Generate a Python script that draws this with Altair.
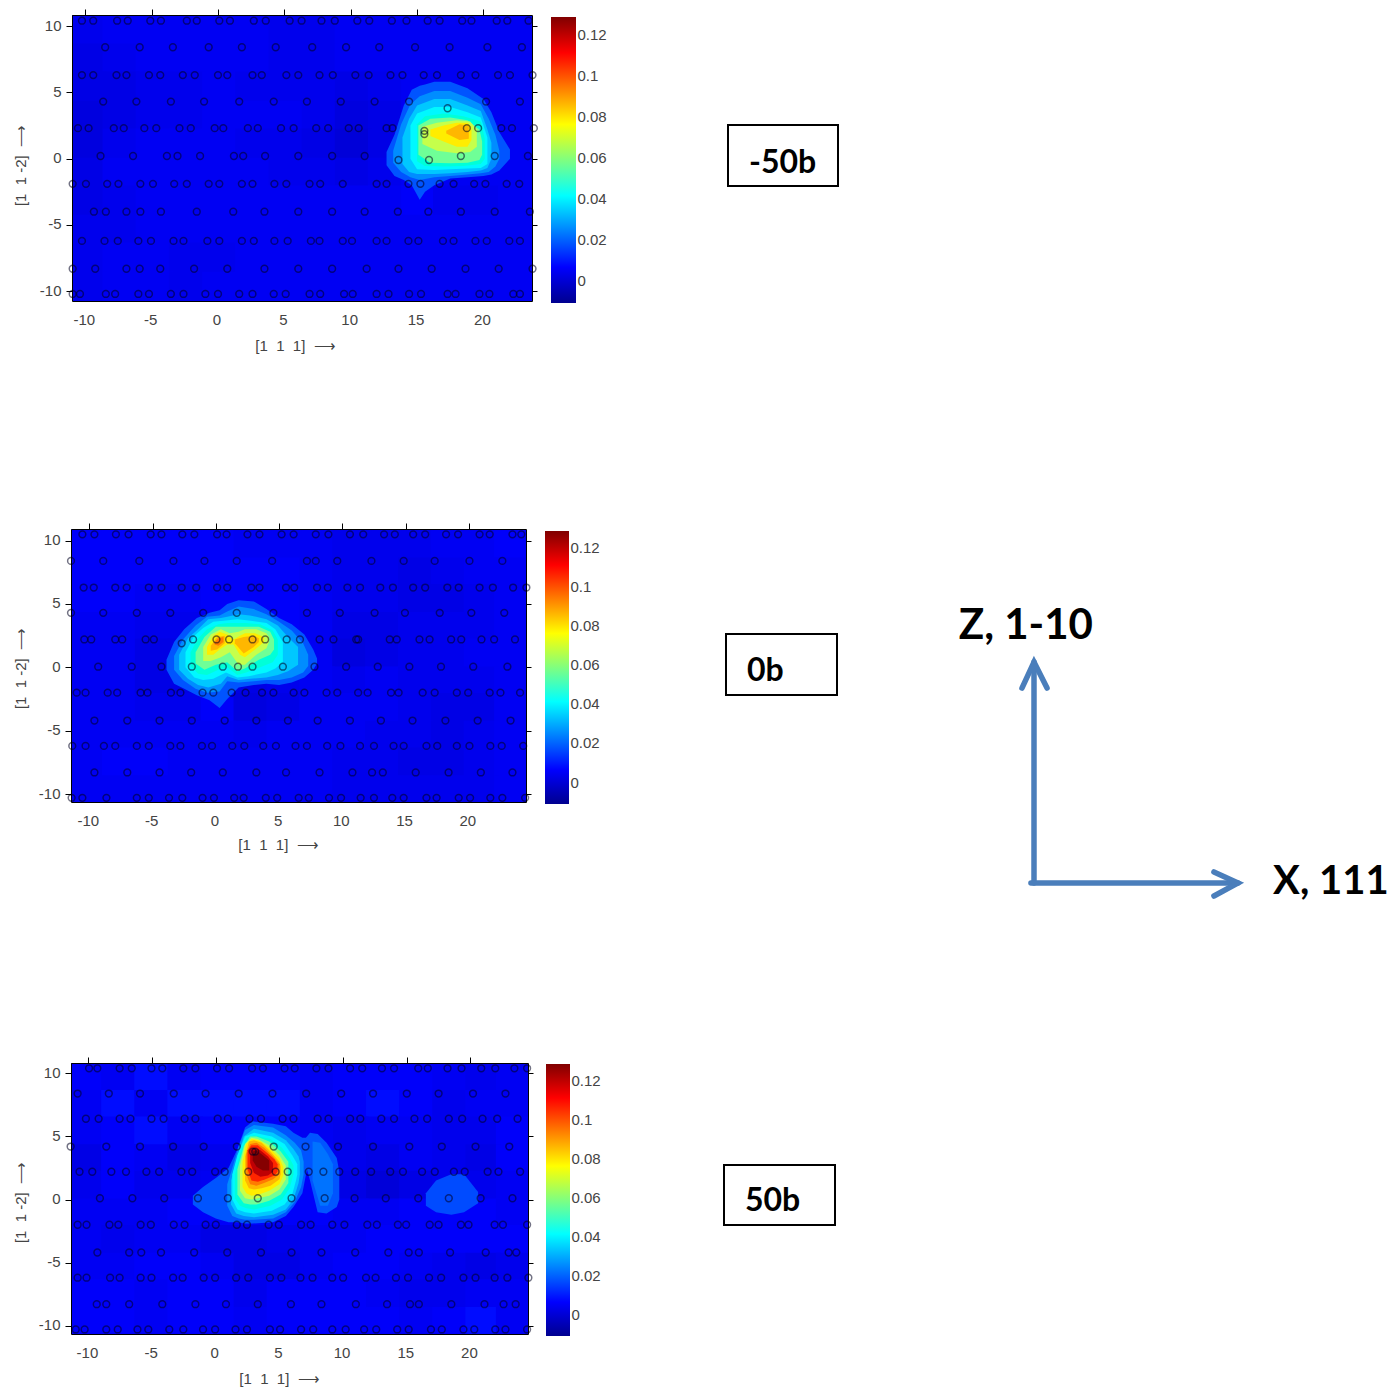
import altair as alt
import pandas as pd

W, H = 1382, 1381
JET_STOPS = [-0.0107, 0.00674, 0.0416, 0.0765, 0.1114, 0.1288]
JET_COLORS = ["#00008f", "#0000ff", "#00ffff", "#ffff00", "#ff0000", "#800000"]
CB_TICKS = [0, 0.02, 0.04, 0.06, 0.08, 0.1, 0.12]
AX_XT = [-10, -5, 0, 5, 10, 15, 20]
AX_YT = [-10, -5, 0, 5, 10]

# ---------- measured atom positions, (row y, [x...]) ----------
P1_POINTS = [
 (10.4, [-10.25,-9.4,-7.6,-6.8,-5.1,-4.3,-2.35,-1.6,0.1,0.9,2.7,3.6,5.4,6.3,7.8,8.8,10.5,11.4,13.1,14.2,15.8,16.7,18.4,19.1,21.0,21.8,23.4]),
 (8.4, [-8.5,-5.9,-3.4,-0.7,1.8,4.35,7.1,9.65,12.15,14.85,17.45,20.3,22.9]),
 (6.3, [-10.25,-9.4,-7.65,-6.9,-5.2,-4.35,-2.65,-1.75,0,0.7,2.6,3.3,5.15,6.05,7.65,8.65,10.35,11.35,13,13.9,15.5,16.5,18.3,19.4,21.1,22,23.7]),
 (4.3, [-8.65,-6.15,-3.55,-1.05,1.6,4.2,6.7,9.25,11.8,14.4,20.2,22.75]),
 (3.8, [17.3]),
 (2.3, [-10.55,-9.75,-7.85,-7.1,-5.55,-4.65,-2.9,-2.05,-0.25,0.4,2.25,3,4.75,5.7,7.4,8.3,9.85,10.6,12.7,13.15,18.75,19.6,21.35,22.15,23.8]),
 (2.1, [15.55]), (1.85, [15.55]),
 (0.2, [-8.85,-6.4,-3.85,-3.05,-1.35,1.2,1.9,3.55,6.05,8.6,11.05,18.3,20.85,23.35]),
 (-0.1, [13.6,15.9]),
 (-1.9, [-10.95,-9.95,-8.35,-7.5,-5.85,-4.9,-3.3,-2.35,-0.7,0.1,1.8,2.6,4.25,5.15,6.9,7.7,9.4,11.95,12.7,14.35,15.25,16.7,17.75,19.3,20.15,21.75,22.7]),
 (-4.0, [-9.35,-8.45,-6.9,-5.85,-4.3,-1.6,1.15,3.5,6.05,8.6,11.05,13.55,15.85,18.3,20.85,23.5]),
 (-6.2, [-10.25,-8.55,-7.55,-6,-5.05,-3.35,-2.6,-0.8,0.1,1.8,2.7,4.25,5.25,7,7.65,9.4,10.1,11.95,12.7,14.35,15.1,16.95,17.75,19.4,20.25,21.95,22.75]),
 (-8.3, [-10.95,-9.25,-6.9,-5.9,-4.35,-1.8,0.7,3.5,6.05,8.6,11.2,13.6,16.1,18.65,21.15,23.7]),
 (-10.2, [-10.95,-10.4,-8.45,-7.75,-6,-5.2,-3.55,-2.6,-0.95,0,1.6,2.6,4.2,5.1,6.9,7.7,9.5,10.15,11.95,12.85,14.4,15.3,17.3,17.9,19.7,20.45,22.25,22.75]),
]
P2_POINTS = [
 (10.5, [-10.55,-9.6,-7.9,-6.9,-5.15,-4.3,-2.65,-1.7,0.1,0.85,2.5,3.45,5.2,6.15,7.9,8.9,10.6,11.65,13.3,14.15,15.6,16.55,18.2,19.15,20.85,21.65,23.45,24.15]),
 (8.4, [-11.45,-8.9,-6.05,-3.35,-0.9,1.65,4.45,7.2,7.9,9.6,12.3,14.85,17.3,20.05,22.65]),
 (6.3, [-10.45,-9.65,-7.95,-7.05,-5.3,-4.3,-2.7,-1.55,0.1,0.9,2.8,3.45,5.55,6.2,8,8.85,10.4,11.4,13,14,15.6,16.55,18.3,19.2,20.85,21.9,23.5,24.55]),
 (4.3, [-11.45,-8.9,-6.25,-3.6,-1,1.65,4.55,7.2,9.8,12.55,14.95,17.7,20.2,22.8]),
 (2.2, [-10.4,-9.85,-7.95,-7.4,-5.55,-4.9,-1.8,0.05,1.05,2.9,3.9,5.6,6.65,8.2,9.3,11.1,11.25,13.75,14.3,16.1,16.9,18.6,19.4,21,22,23.65]),
 (1.9, [-2.7]),
 (0.05, [-9.3,-6.65,-4.3,-1.9,0.55,1.75,2.9,5.3,7.8,10.3,12.8,15.3,17.8,20.35,23.05]),
 (-2.0, [-11,-10.3,-8.55,-7.8,-5.95,-5.4,-3.55,-2.8,-1.05,-0.2,1.25,2.35,3.65,4.55,6.15,7,8.75,9.6,11.25,12,13.85,14.45,16.35,17.3,19.05,19.95,21.65,22.5,24.05]),
 (-4.2, [-9.6,-7,-4.45,-1.9,0.7,3.2,5.7,8.05,10.6,13.05,15.55,18.15,20.7,23.3]),
 (-6.2, [-11.35,-10.3,-8.85,-7.95,-6.25,-5.3,-3.6,-2.8,-1.1,-0.3,1.3,2.25,3.75,4.75,6.3,7.2,8.8,9.85,11.4,12.5,14.05,14.85,16.65,17.5,19.05,20.05,21.7,22.6,24.3]),
 (-8.3, [-9.6,-7,-4.45,-1.95,0.55,3.2,5.55,8.2,10.8,12.35,13.2,15.8,18.4,20.95,23.45]),
 (-10.3, [-11.4,-10.55,-8.65,-6.25,-5.3,-3.7,-2.65,-1.05,-0.15,1.45,2.2,3.95,4.85,6.55,7.35,8.95,9.9,11.45,12.5,13.95,14.85,16.65,17.45,19.2,20.1,21.7,22.65,24.45]),
]
P3_POINTS = [
 (10.4, [-9.95,-9.3,-7.55,-6.6,-5.05,-4.2,-2.55,-1.6,0.1,1.05,2.85,3.7,5.4,6.2,7.9,8.85,10.55,11.5,13.05,14,15.9,16.65,18.2,19.3,20.85,21.95,23.45,24.45]),
 (8.4, [-10.85,-8.4,-5.95,-3.3,-0.8,1.8,4.45,7.1,9.85,12.35,15,17.5,20.2,22.75]),
 (6.4, [-10.2,-9.2,-7.55,-6.7,-5.05,-4.1,-2.45,-1.6,0.15,0.95,2.65,3.55,5.25,6.1,8,8.85,10.55,11.35,13,14,15.6,16.6,18.3,19.35,20.95,22.1,23.7]),
 (4.2, [-11.4,-8.6,-5.95,-3.35,-0.95,1.65,4.55,7.05,9.6,12.35,15.2,17.75,20.4,23.05]),
 (3.8, [2.9,3.1]),
 (2.2, [-10.7,-9.7,-8.2,-7.05,-5.45,-4.45,-2.7,-1.85,-0.05,0.7,2.55,4.7,5.65,7.3,8.45,9.7,10.95,12.2,13.7,14.7,16.2,17.2,18.7,19.55,21.35,22.2,23.9]),
 (0.1, [-9.1,-6.55,-4.05,-1.4,0.95,3.3,5.95,8.55,10.9,13.35,15.9,18.3,20.8,23.3]),
 (-2.0, [-10.85,-10.15,-8.35,-7.65,-5.9,-5.1,-3.3,-2.45,-0.8,0,1.65,2.45,4.15,4.95,6.7,7.45,9.15,10.1,11.9,12.65,14.3,14.95,16.8,17.5,19.25,19.85,21.9,22.55,24.45]),
 (-4.2, [-9.3,-6.8,-5.85,-4.3,-1.7,0.9,3.55,5.95,8.3,10.95,13.55,15.15,15.95,18.4,21.2,23,23.6]),
 (-6.2, [-10.85,-10.15,-8.3,-7.55,-5.9,-5.05,-3.35,-2.6,-0.95,-0.05,1.6,2.55,4.25,5.15,6.65,7.6,9.15,10,11.8,12.55,14.15,15.1,16.75,17.7,19.45,20.4,21.9,22.9,24.55]),
 (-8.3, [-9.35,-8.6,-6.8,-4.2,-1.6,0.8,3.3,5.9,8.3,11,13.45,15.25,15.95,18.5,21.1,22.6,23.55]),
 (-10.3, [-11,-10.3,-8.6,-7.7,-6.15,-5.3,-3.65,-2.55,-1,-0.05,1.55,2.45,4.25,5.05,6.7,7.65,9.15,10.2,11.65,12.6,14.25,15.15,16.9,17.75,19.45,20.3,21.95,22.75,24.45]),
]

# ---------- background intensity, thousandths ----------
BG_Y = [9.7, 7.5, 5.4, 3.2, 1.1, -1.1, -3.2, -5.4, -7.5, -9.7]
P1_BG_X = [-9.8,-7.3,-4.8,-2.3,0.2,2.7,5.2,7.7,10.2,12.7,15.2,17.6,20.1,22.5]
P1_BG = [
 [4,5,5,5,5,5,4,4,5,5,5,5,5,5],
 [3,4,5,5,5,5,4,4,5,5,5,5,5,5],
 [3,3,4,4,5,4,4,4,3,4,5,5,5,5],
 [2,3,4,4,5,5,5,4,2,3,5,5,5,5],
 [2,4,5,5,5,4,4,3,1,3,5,5,5,5],
 [3,5,5,5,5,5,4,4,3,4,5,5,5,5],
 [3,4,5,5,5,5,5,5,5,5,6,4,4,5],
 [4,4,5,5,5,5,5,5,5,5,5,5,5,5],
 [4,5,5,4,4,5,5,5,5,5,5,5,5,5],
 [4,5,5,4,5,5,5,5,5,5,5,5,5,5],
]
P2_BG_X = [-10.2,-7.6,-5,-2.4,0.2,2.8,5.4,8,10.6,13.2,15.8,18.4,21,23.4]
P2_BG = [
 [6,6,6,6,6,5,5,5,4,4,4,5,5,6],
 [6,6,6,6,6,6,6,5,4,4,3,4,5,5],
 [6,6,5,5,6,6,6,5,4,4,3,3,4,5],
 [5,5,4,4,5,6,6,5,3,3,4,4,4,5],
 [5,5,3,3,5,5,6,5,2,3,4,4,5,5],
 [5,5,3,3,5,3,4,5,4,5,4,4,4,5],
 [5,5,4,4,6,2,3,5,5,5,4,3,3,5],
 [5,5,5,5,5,4,5,5,5,4,4,3,4,5],
 [5,6,6,5,5,5,5,5,4,4,3,3,4,5],
 [5,5,5,5,5,5,5,5,4,4,4,4,4,5],
]
P3_BG_X = [-10.2,-7.6,-5,-2.4,0.2,2.8,5.4,8,10.6,13.2,15.8,18.4,21,23.4]
P3_BG = [
 [6,5,7,5,6,6,6,5,6,6,6,5,4,5],
 [5,7,5,7,7,7,7,5,6,7,6,4,5,5],
 [5,6,7,5,6,6,6,5,4,5,5,4,4,6],
 [3,6,5,3,4,5,6,6,4,3,5,4,3,6],
 [4,6,4,4,5,7,6,6,3,1,3,4,4,5],
 [5,5,5,6,6,6,6,6,5,5,6,6,6,5],
 [5,4,5,5,3,3,4,5,5,6,6,6,6,6],
 [5,5,6,6,5,3,3,5,6,6,5,4,3,4],
 [6,6,5,6,6,4,6,6,6,5,4,4,5,5],
 [6,6,5,6,6,5,6,6,6,6,5,6,7,5],
]
# ---------- filled contours: (level, [(x, lower y, upper y), ...]) ----------
P1_CONTOURS = [
 (0.012, [(12.7,-0.5,0.5),(13.3,-1.3,1.8),(14,-1.6,4),(14.6,-2,5.2),(15.2,-3.1,5.5),(15.6,-2.5,5.6),(16.3,-2,5.8),(17.5,-1.5,5.8),(18.8,-1.4,5.3),(20,-1.3,4.5),(20.6,-1.2,3.5),(21.2,-0.9,2),(22,0,0.7)]),
 (0.02, [(13.2,-0.3,0.6),(13.8,-1,2.6),(14.5,-1.4,4.1),(15.2,-1.6,4.7),(16.3,-1.4,5.1),(17.5,-1.3,5.1),(18.8,-1.2,4.6),(19.8,-1.1,4.1),(20.4,-1,3),(20.9,-0.6,1.8),(21.2,0,0.6)]),
 (0.03, [(13.9,-0.4,1.6),(14.4,-1,3),(15,-1.15,4),(16.3,-1.15,4.5),(17.5,-1.1,4.5),(18.8,-1,4),(19.8,-0.9,3.6),(20.3,-0.7,2.2),(20.6,0,1.2)]),
 (0.04, [(14.5,0,2.5),(15,-0.8,3.4),(16.3,-0.85,3.9),(17.5,-0.8,3.9),(18.8,-0.75,3.5),(19.8,-0.7,3.1),(20.3,-0.4,1.6)]),
 (0.05, [(15,-0.2,2.6),(15.6,-0.55,3.2),(17,-0.6,3.4),(18.5,-0.55,3.2),(19.8,-0.4,2.8),(20.1,0,1.5)]),
 (0.06, [(15.1,0.3,2.5),(16,-0.3,3),(17.5,-0.35,3.1),(18.8,-0.3,2.9),(19.7,-0.1,2.2),(19.9,0.3,1.3)]),
 (0.07, [(15.4,1.1,2.4),(16.5,0.6,2.7),(18,0.4,2.9),(19,0.5,2.8),(19.5,0.9,2.2)]),
 (0.08, [(16,1.7,2.2),(17,1.3,2.5),(18,0.9,2.7),(18.8,0.9,2.7),(19.1,1.4,2.4)]),
 (0.09, [(17.2,1.9,2.1),(18.2,1.4,2.6),(18.9,1.5,2.5)]),
]
P2_CONTOURS = [
 (0.012, [(-3.9,-0.2,0.6),(-3.3,-1.3,2),(-2.5,-1.7,3),(-1.5,-2.2,3.9),(-0.5,-2.6,4.3),(0.3,-3.2,4.5),(0.9,-2.5,5),(1.8,-1.6,5.3),(3,-1.4,5.2),(4,-1.3,4.6),(5,-1.4,3.9),(6,-1.2,3.4),(7,-0.8,2.6),(7.7,-0.2,1.4),(8,0.3,0.7)]),
 (0.02, [(-3.3,-0.2,0.9),(-2.6,-1,2.2),(-1.6,-1.7,3.3),(-0.7,-2,4),(0.3,-1.9,4.1),(0.9,-1.1,4.4),(1.8,-1.2,4.8),(3,-1.1,4.6),(4,-1,4.2),(5,-1,3.6),(6,-0.8,2.9),(6.9,-0.4,1.9),(7.3,0.1,1)]),
 (0.03, [(-2.9,-0.2,1),(-2.2,-0.9,2.3),(-1.4,-1.4,3),(-0.6,-1.6,3.8),(0.4,-1.3,3.9),(0.9,-0.7,4.0),(1.8,-1,4.2),(2.7,-0.9,4.1),(4,-0.8,3.8),(4.9,-0.6,3.3),(5.7,-0.3,2.4),(6.5,0.2,1.6)]),
 (0.04, [(-2.4,0,1.2),(-1.7,-0.8,2.5),(-1,-1,3.1),(-0.2,-0.9,3.6),(0.8,-0.4,3.7),(1.7,-0.8,3.8),(2.6,-0.7,3.7),(4,-0.4,3.5),(4.7,-0.1,3),(5.3,0.4,2)]),
 (0.05, [(-2,0.1,1.2),(-1.4,-0.5,2.3),(-0.7,-0.6,3),(0.2,-0.2,3.4),(0.9,0,3.5),(1.7,-0.6,3.5),(2.4,-0.4,3.5),(3.5,0,3.4),(4.5,0.4,2.9),(4.9,1,2.2)]),
 (0.06, [(-1.6,0.3,1.2),(-0.9,-0.2,2.4),(0,0.2,3.2),(0.9,0.4,3.2),(1.7,-0.3,3.2),(2.3,-0.1,3.2),(3.4,0.6,3.2),(4.3,1,2.8),(4.6,1.4,2.2)]),
 (0.07, [(-1,0.5,1.6),(-0.4,0.5,2.6),(0.4,0.8,3),(1.1,1.2,2.7),(1.8,0.2,2.8),(2.3,0.2,3),(3.2,1,3),(4,1.5,2.7),(4.2,2,2.4)]),
 (0.08, [(-0.7,1,1.6),(-0.2,1,2.5),(0.3,1.4,2.8),(0.9,1.8,2.6),(1.4,1.8,2.2),(1.9,1,2.5),(2.3,0.8,2.7),(3.1,1.4,2.7),(3.8,2,2.4)]),
 (0.09, [(-0.4,1.3,1.7),(0.1,1.4,2.4),(0.7,1.9,2.5)]),
 (0.09, [(1.5,1.9,2.2),(2.2,1.1,2.4),(3,1.6,2.5),(3.4,2,2.3)]),
 (0.1, [(-0.1,1.8,2.0),(0.2,1.7,2.3),(0.6,2.0,2.4)]),
]
P3_CONTOURS = [
 (0.011, [(16.5,-0.5,0.5),(17.3,-1,1.5),(18.5,-1.2,2),(19.5,-1,2),(20.6,-0.3,0.6)]),
 (0.012, [(-1.8,-0.4,0.3),(-1,-1,1),(0,-1.5,1.7),(1,-1.8,2.5),(1.7,-1.8,4),(2.3,-1.9,5.7),(2.9,-1.9,6.2),(4.5,-1.8,6),(5.5,-1.3,5.8),(6.1,-0.6,5.3),(6.8,0.5,4.9),(7.2,2.6,4.9)]),
 (0.012, [(7,3,4.8),(7.4,1.5,5.3),(8,-1,5.2),(8.7,-1.1,4.5),(9.5,-0.6,3.3),(9.7,0,2.2)]),
 (0.016, [(7.6,1.5,4.6),(8.2,-0.5,4.5),(8.8,-0.5,3.6),(9.2,0.5,2.8)]),
 (0.02, [(0.9,-0.5,1.2),(1.3,-1.3,2.5),(1.8,-1.5,4.2),(2.3,-1.6,5.5),(3,-1.6,5.9),(4.5,-1.5,5.7),(5.5,-1,5.1),(6.2,-0.2,4.5),(6.7,1,3.9),(6.9,2,3)]),
 (0.03, [(1.2,-0.4,1.5),(1.6,-1.1,3),(2.2,-1.3,5),(3,-1.4,5.6),(4.5,-1.2,5.3),(5.5,-0.8,4.7),(6.1,0,4),(6.5,1.3,3.4),(6.6,2,3)]),
 (0.04, [(1.3,0,2),(1.7,-0.8,3.5),(2.3,-1,5),(3,-1.1,5.3),(4.4,-0.9,5),(5.4,-0.4,4.4),(6,0.4,3.5),(6.3,1.5,3),(6.4,2,2.8)]),
 (0.05, [(1.5,0.1,2),(1.9,-0.5,3.6),(2.4,-0.7,4.9),(3,-0.8,5.1),(4.3,-0.5,4.8),(5.2,0,4.1),(5.8,0.9,3.3),(6.1,2,2.7)]),
 (0.06, [(1.7,0.4,2.4),(2.2,-0.3,4.2),(2.7,-0.4,5),(3.2,-0.4,5),(4.2,-0.1,4.6),(5.1,0.4,3.8),(5.7,1.3,3)]),
 (0.07, [(1.9,0.7,2.7),(2.3,0.1,4.4),(2.8,0,4.9),(3.3,0.1,4.8),(4.2,0.3,4.3),(5,0.8,3.5),(5.5,1.6,2.7)]),
 (0.08, [(2.1,1,3),(2.4,0.5,4.4),(2.8,0.3,4.8),(3.4,0.4,4.7),(4.2,0.7,4.1),(5,1.2,3.3),(5.3,1.9,2.6)]),
 (0.09, [(2.3,1.5,3.4),(2.6,0.9,4.6),(3,0.8,4.7),(3.6,0.9,4.5),(4.3,1.1,3.8),(5,1.6,3),(5.1,2,2.6)]),
 (0.1, [(2.4,2,3.6),(2.7,1.2,4.4),(3.2,1.1,4.5),(3.8,1.3,4.1),(4.5,1.6,3.4),(5,2,2.8)]),
 (0.11, [(2.5,2.4,3.9),(2.8,1.5,4.3),(3.3,1.4,4.3),(3.9,1.6,3.8),(4.6,1.9,3.2),(4.85,2.2,2.8)]),
 (0.12, [(2.7,2.9,3.9),(3,2.1,4.1),(3.5,1.8,3.9),(4.1,1.9,3.4),(4.5,2.2,2.9)]),
 (0.128, [(2.9,3.1,3.8),(3.2,2.6,3.9),(3.7,2.3,3.5),(4.2,2.3,3.1)]),
]

PANELS = [
 dict(name="-50b", pts=P1_POINTS, bgx=P1_BG_X, bg=P1_BG, con=P1_CONTOURS,
      xd=[-11.0,23.66], yd=[-10.73,10.83], plot=(72,532,15,301), cb=(551,576,17,303),
      box=(728,838,125,186), tx=749, ty=163, xt=(295,345), yt=(20,165)),
 dict(name="0b", pts=P2_POINTS, bgx=P2_BG_X, bg=P2_BG, con=P2_CONTOURS,
      xd=[-11.45,24.52], yd=[-10.63,10.92], plot=(71,526,529,802), cb=(545,569,531,804),
      box=(726,837,634,695), tx=747, ty=671, xt=(278,844), yt=(20,668)),
 dict(name="50b", pts=P3_POINTS, bgx=P3_BG_X, bg=P3_BG, con=P3_CONTOURS,
      xd=[-11.37,24.52], yd=[-10.66,10.82], plot=(71,528,1063,1334), cb=(546,570,1064,1336),
      box=(724,835,1165,1225), tx=745, ty=1201, xt=(279,1378), yt=(20,1202)),
]
JET = alt.Scale(domain=JET_STOPS, range=JET_COLORS)
NB = "\u00a0"
ARROW = "\u27f6"
X_TITLE = f"[1{NB}{NB}1{NB}{NB}1]{NB}{NB}{ARROW}"
Y_TITLE = f"[1{NB}{NB}1{NB}-2]{NB}{NB}{ARROW}"
XLAB = "'' + datum.value + (datum.value < 0 ? '\u00a0\u00a0' : '')"
YLAB = "'' + datum.value"

def cells(xs, ys, rows, dx, dy, xd, yd):
    out = []
    for yy, row in zip(ys, rows):
        for xx, v in zip(xs, row):
            out.append(dict(x0=max(xx-dx/2, xd[0]), x1=min(xx+dx/2, xd[1]),
                            y0=max(yy-dy/2, yd[0]), y1=min(yy+dy/2, yd[1]), v=v/1000))
    return pd.DataFrame(out)

LBL = dict(labelFont="Liberation Sans", labelFontSize=15, labelColor="#444444", tickColor="#000000",
           domainColor="#000000", grid=False, labelFlush=False, labelOverlap=False)
TTL = dict(titleFont="Liberation Sans", titleFontSize=15, titleFontWeight="normal", titleColor="#444444")

layers = []
for p in PANELS:
    l, r, t, b = [v-8 for v in p["plot"]]
    xs = alt.Scale(domain=p["xd"], range=[l, r], nice=False, zero=False)
    ys = alt.Scale(domain=p["yd"], range=[b, t], nice=False, zero=False)
    xax = alt.Axis(orient="bottom", offset=b-H, values=AX_XT, tickSize=0, labelPadding=11, labelExpr=XLAB, labelOffset=-1.5, zindex=1,
                   title=X_TITLE, titleX=p["xt"][0]-8, titleY=p["xt"][1]-8-b, titleBaseline="middle",
                   titleAlign="center", **LBL, **TTL)
    yax = alt.Axis(orient="left", offset=-l, values=AX_YT, tickSize=6, labelPadding=5, labelExpr=YLAB, labelOffset=-1, zindex=1,
                   title=Y_TITLE, titleX=p["yt"][0]-8-l, titleY=p["yt"][1]-8, titleAngle=-90,
                   titleBaseline="middle", titleAlign="center", **LBL, **TTL)
    df = cells(p["bgx"], BG_Y, p["bg"], 2.8, 2.35, p["xd"], p["yd"])
    layers.append(alt.Chart(df).mark_rect().encode(
        x=alt.X("x0:Q", scale=xs, axis=xax), x2="x1:Q",
        y=alt.Y("y0:Q", scale=ys, axis=yax), y2="y1:Q",
        color=alt.Color("v:Q", scale=JET, legend=None)))

    for level, poly in p["con"]:
        cd = pd.DataFrame([dict(x=a, lo=c, hi=d, v=level) for a, c, d in poly])
        layers.append(alt.Chart(cd).mark_area(interpolate="linear", opacity=1).encode(
            x=alt.X("x:Q", scale=xs, axis=None),
            y=alt.Y("lo:Q", scale=ys, axis=None, stack=None), y2="hi:Q",
            color=alt.Color("v:Q", scale=JET, legend=None)))

    pts = pd.DataFrame([dict(x=x, y=yy) for yy, row in p["pts"] for x in row])
    topax = alt.Axis(orient="top", offset=-t, values=AX_XT, tickSize=6, labels=False, title=None, domainColor="#000000", tickColor="#000000", grid=False, zindex=1)
    rightax = alt.Axis(orient="right", offset=r-W, values=AX_YT, tickSize=5, labels=False, title=None, domainColor="#000000", tickColor="#000000", grid=False, zindex=1)
    layers.append(alt.Chart(pts).mark_point(shape="circle", filled=False, size=46, stroke="#000020", strokeWidth=1.5, opacity=0.55)
                  .encode(x=alt.X("x:Q", scale=xs, axis=topax), y=alt.Y("y:Q", scale=ys, axis=rightax)))

    # colour bar
    cl, cr, ct, cb = [v-8 for v in p["cb"]]
    grad = alt.Gradient(gradient="linear", x1=0, x2=0, y1=1, y2=0, stops=[
        alt.GradientStop(color=c, offset=o) for c, o in zip(JET_COLORS, [0, 0.125, 0.375, 0.625, 0.875, 1])])
    cby = alt.Scale(domain=[JET_STOPS[0], JET_STOPS[-1]], range=[cb, ct], nice=False, zero=False)
    cbx = alt.Scale(domain=[0, 1], range=[cl, cr], nice=False)
    cbax = alt.Axis(orient="right", offset=cr-W, values=CB_TICKS, format="~g", ticks=False, labelPadding=1, labelOffset=-1,
                    title=None, domain=False, **LBL)
    layers.append(alt.Chart(pd.DataFrame([dict(a=0, b=1, lo=JET_STOPS[0], hi=JET_STOPS[-1])]))
                  .mark_rect(color=grad)
                  .encode(x=alt.X("a:Q", scale=cbx, axis=None), x2="b:Q",
                          y=alt.Y("lo:Q", scale=cby, axis=cbax), y2="hi:Q"))

    # label box
    bl, br, bt, bb = [v-8 for v in p["box"]]
    bxs = alt.Scale(domain=[0, 1], range=[bl, br], nice=False)
    bys = alt.Scale(domain=[0, 1], range=[bb, bt], nice=False)
    layers.append(alt.Chart(pd.DataFrame([dict(a=0, b=1, c=0, d=1)]))
                  .mark_rect(fill="white", stroke="black", strokeWidth=2)
                  .encode(x=alt.X("a:Q", scale=bxs, axis=None), x2="b:Q",
                          y=alt.Y("c:Q", scale=bys, axis=None), y2="d:Q"))
    tpos = alt.Scale(domain=[0, 1], range=[p["tx"]-8, p["tx"]-7], nice=False)
    typ = alt.Scale(domain=[0, 1], range=[p["ty"]-8, p["ty"]-9], nice=False)
    layers.append(alt.Chart(pd.DataFrame([dict(a=0, c=0, t=p["name"])]))
                  .mark_text(font="Lato", fontWeight="bold", fontSize=32, align="left", baseline="middle", color="black")
                  .encode(x=alt.X("a:Q", scale=tpos, axis=None), y=alt.Y("c:Q", scale=typ, axis=None), text="t:N"))

# ---------- axis diagram, in its own unit coordinates ----------
SEGMENTS = [
 ("z", 0, 0), ("z", 0, 1),
 ("zh", -0.059, 0.882), ("zh", 0, 1), ("zh", 0.064, 0.882),
 ("x", -0.015, 0), ("x", 1, 0),
 ("xh", 0.882, 0.05), ("xh", 1, 0), ("xh", 0.882, -0.059),
]
ARROW_COLOR = "#4a7ebb"
dx = alt.Scale(domain=[0, 1], range=[1034-8, 1238-8], nice=False, zero=False)
dy = alt.Scale(domain=[0, 1], range=[883-8, 662-8], nice=False, zero=False)
seg = pd.DataFrame(SEGMENTS, columns=["g", "u", "w"])
seg["o"] = range(len(seg))
layers.append(alt.Chart(seg).mark_line(color=ARROW_COLOR, strokeWidth=5.5, strokeCap="round", strokeJoin="miter")
              .encode(x=alt.X("u:Q", scale=dx, axis=None), y=alt.Y("w:Q", scale=dy, axis=None),
                      detail="g:N", order="o:Q"))

DIAG_LABELS = [("Z, 1-10", -0.04, 1.165, "center", 42), ("X, 111", 1.172, 0.005, "left", 40)]
for t_, u_, w_, al_, fs_ in DIAG_LABELS:
    layers.append(alt.Chart(pd.DataFrame([dict(t=t_, u=u_, w=w_)]))
                  .mark_text(font="Lato", fontWeight="bold", fontSize=fs_, align=al_, baseline="middle", color="black")
                  .encode(x=alt.X("u:Q", scale=dx, axis=None), y=alt.Y("w:Q", scale=dy, axis=None), text="t:N"))

chart = (alt.layer(*layers)
         .resolve_scale(x="independent", y="independent")
         .properties(width=W, height=H, padding=0, autosize=alt.AutoSizeParams(type="none"))
         .configure_view(stroke=None))
chart.save("out.html", embed_options={"renderer": "svg", "actions": False})
